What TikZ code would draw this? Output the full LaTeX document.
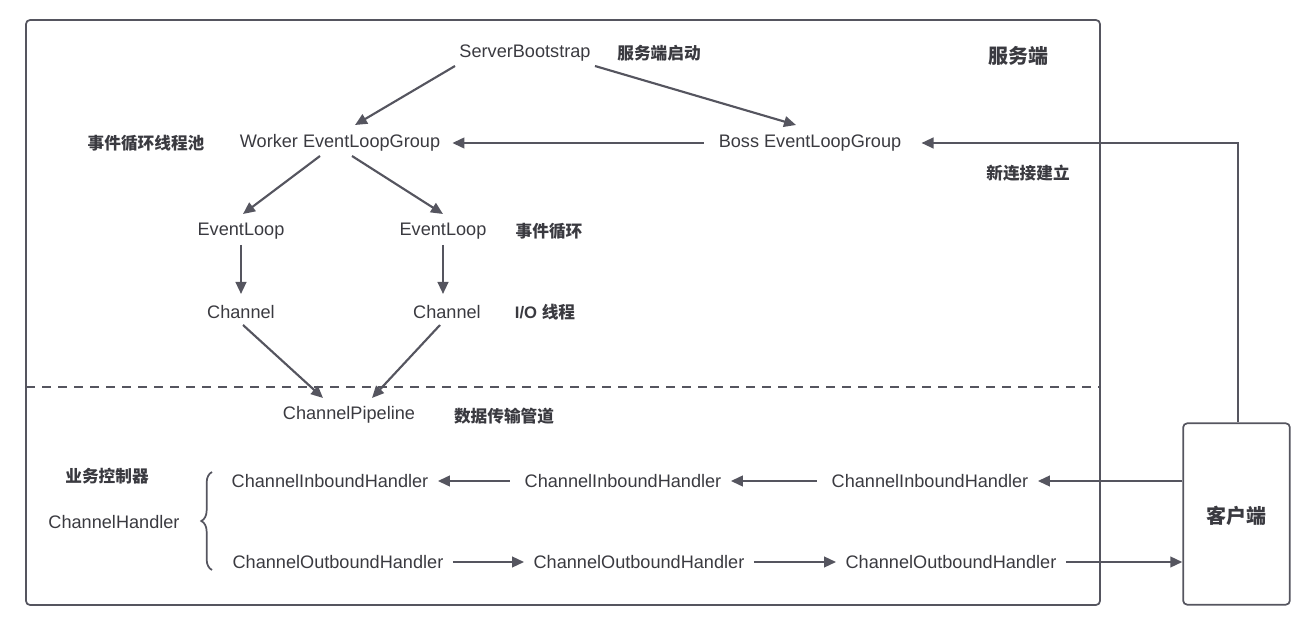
\documentclass[tikz,border=0pt]{standalone}
\usepackage{fontspec}
\setmainfont{Liberation Sans}
\newfontfamily\cjk{Noto Sans CJK SC}
\usetikzlibrary{arrows.meta,decorations.pathreplacing}
\definecolor{ink}{HTML}{55555F}
\definecolor{txt}{HTML}{3A3A40}
\begin{document}
\begin{tikzpicture}[x=0.75pt,y=-0.75pt,
  t/.style={text=txt,font=\fontsize{13.6}{15}\selectfont,inner sep=1pt},
  c/.style={text=txt,font=\cjk\bfseries\fontsize{12.5}{14}\selectfont,inner sep=1pt},
  a/.style={draw=ink,line width=1.6pt,-{Triangle[length=9pt,width=8pt]}},
  box/.style={draw=ink,line width=1.3pt,rounded corners=3pt}]
\useasboundingbox (0,0) rectangle (1315,627);
\draw[box] (26,20) rectangle (1100,605);
\draw[ink,line width=1.3pt,dash pattern=on 7pt off 5pt] (26,387) -- (1100,387);
\node[box,minimum width=80pt,minimum height=136pt,inner sep=0pt] (cl) at (1236.5,514) {};
\node[c,font=\cjk\bfseries\fontsize{15}{17}\selectfont] at (1236,516) {客户端};

\node[t] (sb) at (525,53) {ServerBootstrap};
\node[c] at (659,53) {服务端启动};
\node[c,font=\cjk\bfseries\fontsize{15}{17}\selectfont] at (1018,56) {服务端};
\node[t] (wk) at (340,143) {Worker EventLoopGroup};
\node[c] at (146,143) {事件循环线程池};
\node[t] (bs) at (810,143) {Boss EventLoopGroup};
\node[c] at (1028,173) {新连接建立};
\node[t] (e1) at (241,231) {EventLoop};
\node[t] (e2) at (443,231) {EventLoop};
\node[c] at (549,231) {事件循环};
\node[t] (c1) at (241,312) {Channel};
\node[t] (c2) at (447,312) {Channel};
\node[c] at (545,312) {\fontspec{Liberation Sans}I/O \cjk 线程};
\node[t] (pp) at (349,415) {ChannelPipeline};
\node[c] at (504,416) {数据传输管道};
\node[c] at (107,476) {业务控制器};
\node[t] at (114,522) {ChannelHandler};
\node[t] (i1) at (330,481) {ChannelInboundHandler};
\node[t] (i2) at (623,481) {ChannelInboundHandler};
\node[t] (i3) at (930,481) {ChannelInboundHandler};
\node[t] (o1) at (338,562) {ChannelOutboundHandler};
\node[t] (o2) at (639,562) {ChannelOutboundHandler};
\node[t] (o3) at (951,562) {ChannelOutboundHandler};
\coordinate (k) at (1238,143);

\draw[ink,line width=1.3pt,decorate,decoration={brace,amplitude=8pt}] (212,570) -- (212,472);

\draw[a] (455,66) -- (355,125);
\draw[a] (595,66) -- (796,125);
\draw[a] ([xshift=-10]bs.west) -- ([xshift=8]wk.east);
\draw[a] (cl.north -| k) -- (k) -- ([xshift=14]bs.east);
\draw[a] (320,156) -- (243,214);
\draw[a] (352,156) -- (443,214);
\draw[a] (241,245) -- (241,294);
\draw[a] (443,245) -- (443,294);
\draw[a] (243,325) -- (323,398);
\draw[a] (440,325) -- (372,398);
\draw[a] (cl.west |- i3) -- ([xshift=6]i3.east);
\draw[a] ([xshift=-10]i3.west) -- ([xshift=6]i2.east);
\draw[a] ([xshift=-10]i2.west) -- ([xshift=6]i1.east);
\draw[a] ([xshift=6]o1.east) -- ([xshift=-6]o2.west);
\draw[a] ([xshift=6]o2.east) -- ([xshift=-6]o3.west);
\draw[a] ([xshift=6]o3.east) -- (cl.west |- o3);
\end{tikzpicture}
\end{document}
